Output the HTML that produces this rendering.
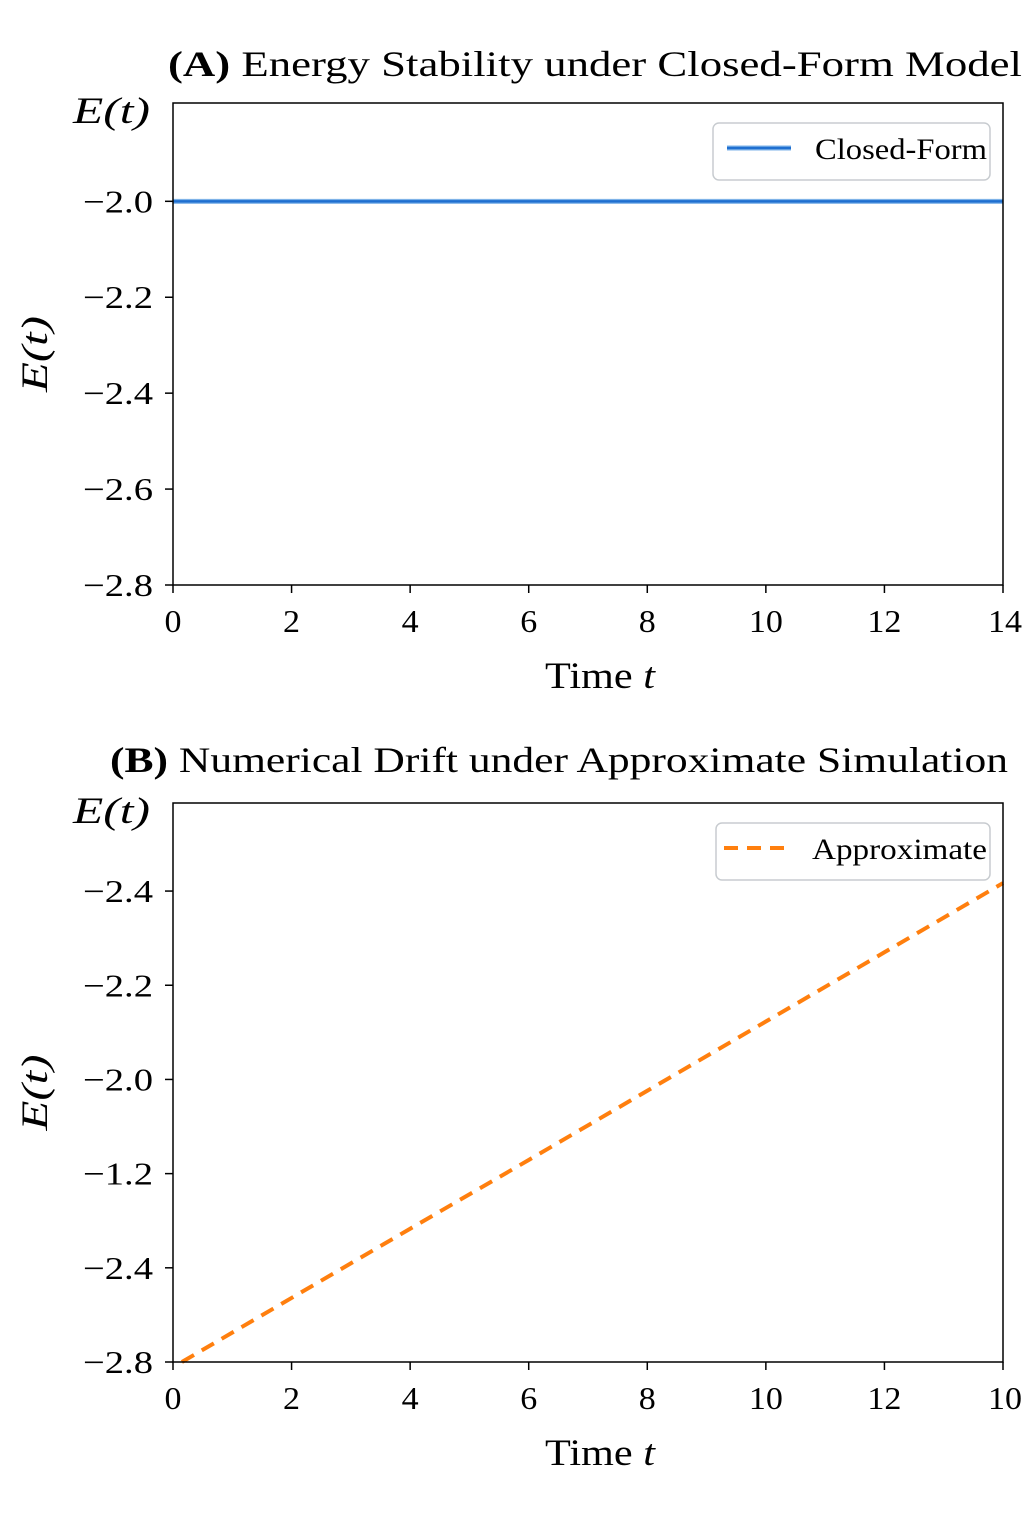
<!DOCTYPE html>
<html><head><meta charset="utf-8">
<style>
html,body{margin:0;padding:0;background:#fff;}
svg{display:block;}
text{font-family:"Liberation Serif","DejaVu Serif",serif;fill:#000;}
</style></head>
<body>
<svg id="chart" width="1024" height="1536" viewBox="0 0 1024 1536" xmlns="http://www.w3.org/2000/svg">
<text x="595" y="76" font-size="36" text-anchor="middle" textLength="854" lengthAdjust="spacingAndGlyphs"><tspan font-weight="bold">(A)</tspan> Energy Stability under Closed-Form Model</text>
<text x="559" y="772" font-size="36" text-anchor="middle" textLength="898" lengthAdjust="spacingAndGlyphs"><tspan font-weight="bold">(B)</tspan> Numerical Drift under Approximate Simulation</text>
<g id="pa"></g>
<g id="pb"></g>
</svg>
<script>
// Panel A data
const xTicksA = [0,2,4,6,8,10,12,14];
const xTickLabelsA = ["0","2","4","6","8","10","12","14"];
const yTicksA = [-2.0,-2.2,-2.4,-2.6,-2.8];
const yTickLabelsA = ["\u22122.0","\u22122.2","\u22122.4","\u22122.6","\u22122.8"];
const tA = [0,14];
const eA = [-2.0,-2.0];
// Panel B data (tick labels as printed in the figure)
const xTicksB = [0,2,4,6,8,10,12,14];
const xTickLabelsB = ["0","2","4","6","8","10","12","10"];
const yTicksB = [-1.8,-2.0,-2.2,-2.4,-2.6,-2.8];
const yTickLabelsB = ["\u22122.4","\u22122.2","\u22122.0","\u22121.2","\u22122.4","\u22122.8"];
const tB = [0.15,2,4,6,8,10,12,14];
const eB = [-2.8,-2.664,-2.517,-2.371,-2.224,-2.077,-1.930,-1.783];

const NS="http://www.w3.org/2000/svg";
function mk(parent,tag,attrs,txt){const e=document.createElementNS(NS,tag);for(const k in attrs)e.setAttribute(k,attrs[k]);if(txt!==undefined)e.textContent=txt;parent.appendChild(e);return e;}

function panel(g,cfg){
  const L=173,R=1003,T=cfg.top,B=cfg.bottom;
  const xs=v=>L+(v-cfg.x0)/(cfg.x1-cfg.x0)*(R-L);
  const ys=v=>B-(v-cfg.y0)/(cfg.y1-cfg.y0)*(B-T);
  const pts=cfg.t.map((t,i)=>xs(t)+","+ys(cfg.e[i])).join(" ");
  if(cfg.kind==="solid"){
    const l1=mk(g,"polyline",{points:pts,fill:"none",stroke:"#7fb3e8","stroke-width":5});
    
    
    const l2=mk(g,"polyline",{points:pts,fill:"none",stroke:"#1f6fd0","stroke-width":2.5});
    
    
  } else {
    const l=mk(g,"polyline",{points:pts,fill:"none",stroke:"#ff7f0e","stroke-width":4,"stroke-dasharray":"14,9"});
    
    
  }
  const fr=mk(g,"rect",{x:L,y:T,width:R-L,height:B-T,fill:"none",stroke:"#000","stroke-width":1.5});
  
  
  cfg.xt.forEach((v,i)=>{
    const x=xs(v);
    mk(g,"line",{x1:x,y1:B,x2:x,y2:B+8,stroke:"#000","stroke-width":1.5});
    const lab=cfg.xl[i];
    const t=mk(g,"text",{x:x+(i===cfg.xt.length-1?2:0),y:B+47,"font-size":32,"text-anchor":"middle",textLength:lab.length*17,lengthAdjust:"spacingAndGlyphs"},lab);
    
    
  });
  cfg.yt.forEach((v,i)=>{
    const y=ys(v);
    mk(g,"line",{x1:L-8,y1:y,x2:L,y2:y,stroke:"#000","stroke-width":1.5});
    const t=mk(g,"text",{x:L-20,y:y+11,"font-size":32,"text-anchor":"end",textLength:70,lengthAdjust:"spacingAndGlyphs"},cfg.yl[i]);
    
    
  });
  const xt=mk(g,"text",{x:600,y:B+103,"font-size":37,"text-anchor":"middle",textLength:110,lengthAdjust:"spacingAndGlyphs"});
  
  
  xt.innerHTML='Time <tspan font-style="italic">t</tspan>';
  const yt=mk(g,"text",{x:0,y:0,"font-size":37,"font-style":"italic","text-anchor":"middle",textLength:76,lengthAdjust:"spacingAndGlyphs",transform:"translate(47,"+((T+B)/2+10)+") rotate(-90)"},"E(t)");
  
  
  const yt2=mk(g,"text",{x:73,y:T+20,"font-size":37,"font-style":"italic",textLength:77,lengthAdjust:"spacingAndGlyphs"},"E(t)");
  
  
  const lg=mk(g,"g",{});
  
  
  mk(lg,"rect",{x:cfg.lx,y:T+20,width:990-cfg.lx,height:57,rx:6,fill:"#fff",stroke:"#c8ccd0","stroke-width":1.5});
  const ly=T+45;
  if(cfg.kind==="solid"){
    mk(lg,"line",{x1:cfg.lx+14,y1:ly,x2:cfg.lx+78,y2:ly,stroke:"#7fb3e8","stroke-width":5});
    mk(lg,"line",{x1:cfg.lx+14,y1:ly,x2:cfg.lx+78,y2:ly,stroke:"#1f6fd0","stroke-width":2.5});
  } else {
    mk(lg,"line",{x1:cfg.lx+8,y1:ly,x2:cfg.lx+74,y2:ly,stroke:"#ff7f0e","stroke-width":4,"stroke-dasharray":"14,9"});
  }
  const lt=mk(lg,"text",{x:987,y:ly+11,"font-size":30,"text-anchor":"end",textLength:cfg.lw,lengthAdjust:"spacingAndGlyphs"},cfg.name);
  
  
}
panel(document.getElementById('pa'),{top:103,bottom:585,x0:0,x1:14,y0:-2.8,y1:-1.795,t:tA,e:eA,xt:xTicksA,xl:xTickLabelsA,yt:yTicksA,yl:yTickLabelsA,kind:"solid",lx:713,name:"Closed-Form",lw:172});
panel(document.getElementById('pb'),{top:803,bottom:1362,x0:0,x1:14,y0:-2.8,y1:-1.613,t:tB,e:eB,xt:xTicksB,xl:xTickLabelsB,yt:yTicksB,yl:yTickLabelsB,kind:"dash",lx:716,name:"Approximate",lw:175});
</script>
</body></html>
